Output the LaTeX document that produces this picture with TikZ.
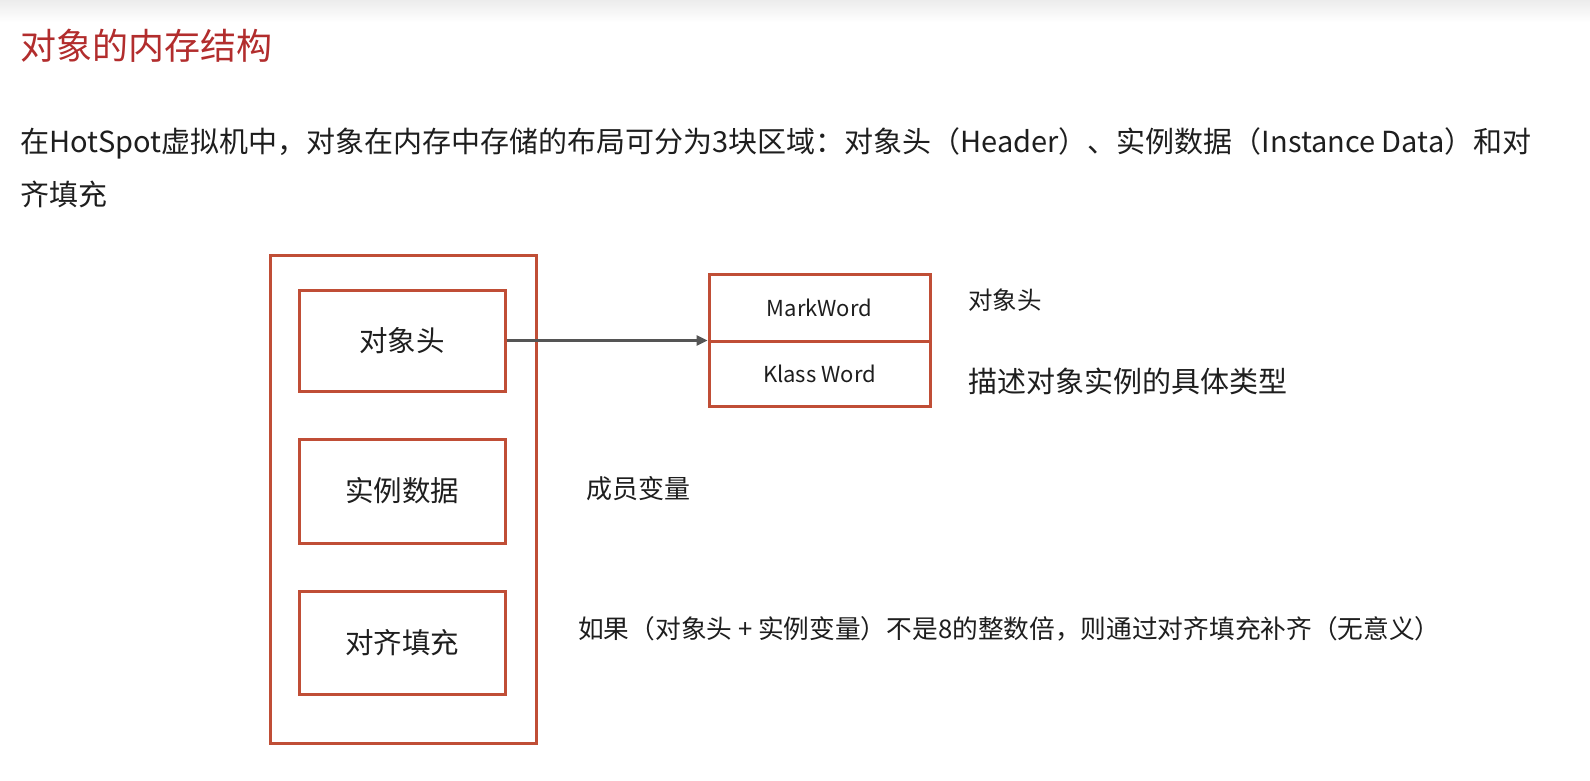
\documentclass[tikz,border=0pt]{standalone}
\usepackage{fontspec}
\setmainfont{Noto Sans CJK SC}
\usetikzlibrary{arrows.meta}
\definecolor{boxred}{RGB}{192,78,54}
\definecolor{titlered}{RGB}{178,45,45}
\definecolor{txt}{RGB}{30,30,30}
\definecolor{arrowgray}{RGB}{85,85,85}
\tikzset{
  box/.style={draw=boxred, line width=3pt, rectangle, inner sep=0pt, text=txt},
  lbl/.style={anchor=west, inner sep=0pt, text=txt},
  arr/.style={draw=arrowgray, line width=2.5pt, -{Triangle[length=11pt,width=10pt]}},
}
\begin{document}
\begin{tikzpicture}[x=1pt,y=-1pt]
\useasboundingbox (0,0) rectangle (1590,781);
\fill[white] (0,0) rectangle (1590,781);
\shade[top color={rgb,255:red,236;green,236;blue,236}, bottom color=white] (0,0) rectangle (1590,22);
% title
\node[anchor=west, inner sep=0pt, text=titlered, font=\fontsize{36}{42}\selectfont] (title) at (20,46) {对象的内存结构};
% paragraph
\node[lbl, font=\fontsize{29}{34}\selectfont] (p1) at (20,143) {在HotSpot虚拟机中，对象在内存中存储的布局可分为3块区域：对象头（Header）、实例数据（Instance Data）和对};
\node[lbl, font=\fontsize{29}{34}\selectfont] (p2) at (20,194) {齐填充};
% outer object box
\node[box, minimum width=266pt, minimum height=488pt] (obj) at (403,499) {};
% inner boxes
\node[box, minimum width=206pt, minimum height=101pt, font=\fontsize{28.5}{32}\selectfont] (hdr) at (402,340.5) {对象头};
\node[box, minimum width=206pt, minimum height=104pt, font=\fontsize{28.5}{32}\selectfont] (inst) at (402,491) {实例数据};
\node[box, minimum width=206pt, minimum height=103pt, font=\fontsize{28.5}{32}\selectfont] (pad) at (402,642.5) {对齐填充};
% header detail boxes
\node[box, minimum width=221pt, minimum height=67pt, font=\fontsize{22}{26}\selectfont] (mw) at (819.5,307.5) {MarkWord};
\node[box, minimum width=221pt, minimum height=65pt, font=\fontsize{22}{26}\selectfont] (kw) at (819.5,373.5) {Klass Word};
% arrow
\draw[arr] (hdr.east) -- (hdr.east -| mw.south west);
% labels
\node[lbl, font=\fontsize{24.5}{28}\selectfont] (l1) at (968,300) {对象头};
\node[lbl, font=\fontsize{29}{34}\selectfont] (l2) at (968,381) {描述对象实例的具体类型};
\node[lbl, font=\fontsize{26}{30}\selectfont] (l3) at (586,489) {成员变量};
\node[lbl, font=\fontsize{25.7}{30}\selectfont] (l4) at (578,629) {如果（对象头 + 实例变量）不是8的整数倍，则通过对齐填充补齐（无意义）};
\end{tikzpicture}
\end{document}
